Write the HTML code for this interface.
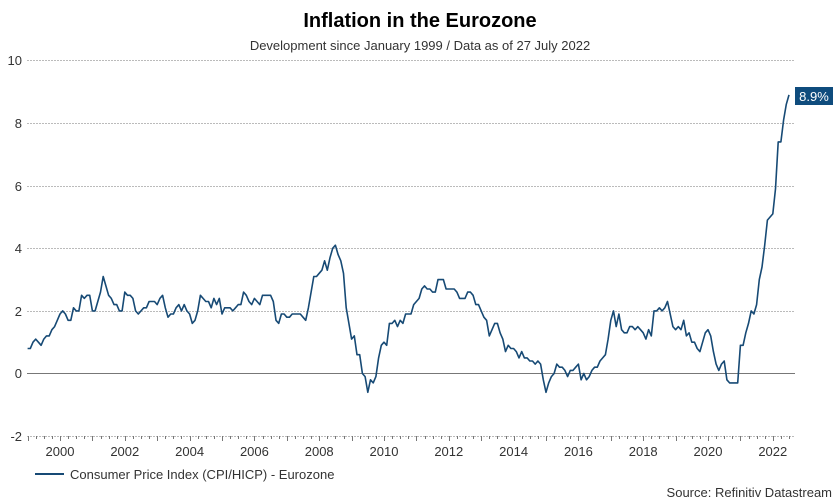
<!DOCTYPE html>
<html><head><meta charset="utf-8"><style>
html,body{margin:0;padding:0;background:#fff;}
svg{display:block;font-family:"Liberation Sans",Arial,sans-serif;}
</style></head><body>
<svg id="s" width="840" height="504" viewBox="0 0 840 504">
<text x="420" y="27" text-anchor="middle" font-size="20" font-weight="bold" fill="#000">Inflation in the Eurozone</text>
<text x="420" y="50" text-anchor="middle" font-size="13" fill="#333">Development since January 1999 / Data as of 27 July 2022</text>
<g stroke="#bbb" stroke-dasharray="2,1" stroke-width="1">
<line x1="27" x2="795" y1="60.5" y2="60.5"/>
<line x1="27" x2="795" y1="123.5" y2="123.5"/>
<line x1="27" x2="795" y1="186.5" y2="186.5"/>
<line x1="27" x2="795" y1="248.5" y2="248.5"/>
<line x1="27" x2="795" y1="311.5" y2="311.5"/>
<line x1="27" x2="795" y1="436.5" y2="436.5"/>
</g>
<line x1="27" x2="795" y1="373.5" y2="373.5" stroke="#777" stroke-width="1"/>
<g font-size="13" fill="#333" text-anchor="end">
<text x="22" y="65">10</text><text x="22" y="128">8</text><text x="22" y="191">6</text>
<text x="22" y="253">4</text><text x="22" y="316">2</text><text x="22" y="378">0</text><text x="22" y="441">-2</text>
</g>
<g id="ticks" stroke="#777" stroke-width="1"></g>
<g font-size="13" fill="#333" text-anchor="middle" id="xl"></g>
<path id="p" fill="none" stroke="#174a75" stroke-width="1.6" stroke-linejoin="round"/>
<rect x="795" y="87" width="38" height="18" fill="#0f4c7d"/>
<text x="814" y="101" text-anchor="middle" font-size="13" fill="#fff">8.9%</text>
<line x1="35" x2="64" y1="474" y2="474" stroke="#174a75" stroke-width="2"/>
<text x="70" y="479" font-size="13" fill="#333">Consumer Price Index (CPI/HICP) - Eurozone</text>
<text x="832" y="497" text-anchor="end" font-size="13" fill="#333">Source: Refinitiv Datastream</text>
</svg>
<script>
var d=[0.8,0.8,1.0,1.1,1.0,0.9,1.1,1.2,1.2,1.4,1.5,1.7,
1.9,2.0,1.9,1.7,1.7,2.1,2.0,2.0,2.5,2.4,2.5,2.5,
2.0,2.0,2.3,2.6,3.1,2.8,2.5,2.4,2.2,2.2,2.0,2.0,
2.6,2.5,2.5,2.4,2.0,1.9,2.0,2.1,2.1,2.3,2.3,2.3,
2.2,2.4,2.5,2.1,1.8,1.9,1.9,2.1,2.2,2.0,2.2,2.0,
1.9,1.6,1.7,2.0,2.5,2.4,2.3,2.3,2.1,2.4,2.2,2.4,
1.9,2.1,2.1,2.1,2.0,2.1,2.2,2.2,2.6,2.5,2.3,2.2,
2.4,2.3,2.2,2.5,2.5,2.5,2.5,2.3,1.7,1.6,1.9,1.9,
1.8,1.8,1.9,1.9,1.9,1.9,1.8,1.7,2.1,2.6,3.1,3.1,
3.2,3.3,3.6,3.3,3.7,4.0,4.1,3.8,3.6,3.2,2.1,1.6,
1.1,1.2,0.6,0.6,0.0,-0.1,-0.6,-0.2,-0.3,-0.1,0.5,0.9,
1.0,0.9,1.6,1.6,1.7,1.5,1.7,1.6,1.9,1.9,1.9,2.2,
2.3,2.4,2.7,2.8,2.7,2.7,2.6,2.6,3.0,3.0,3.0,2.7,
2.7,2.7,2.7,2.6,2.4,2.4,2.4,2.6,2.6,2.5,2.2,2.2,
2.0,1.8,1.7,1.2,1.4,1.6,1.6,1.3,1.1,0.7,0.9,0.8,
0.8,0.7,0.5,0.7,0.5,0.5,0.4,0.4,0.3,0.4,0.3,-0.2,
-0.6,-0.3,-0.1,0.0,0.3,0.2,0.2,0.1,-0.1,0.1,0.1,0.2,
0.3,-0.2,0.0,-0.2,-0.1,0.1,0.2,0.2,0.4,0.5,0.6,1.1,
1.7,2.0,1.5,1.9,1.4,1.3,1.3,1.5,1.5,1.4,1.5,1.4,
1.3,1.1,1.4,1.2,2.0,2.0,2.1,2.0,2.1,2.3,1.9,1.5,
1.4,1.5,1.4,1.7,1.2,1.3,1.0,1.0,0.8,0.7,1.0,1.3,
1.4,1.2,0.7,0.3,0.1,0.3,0.4,-0.2,-0.3,-0.3,-0.3,-0.3,
0.9,0.9,1.3,1.6,2.0,1.9,2.2,3.0,3.4,4.1,4.9,5.0,
5.1,5.9,7.4,7.4,8.1,8.6,8.9];
var x0=27.6,dx=32.4/12,s="";
function Y(v){return 373.5-v*31.3;}
for(var i=0;i<d.length;i++){s+=(i?"L":"M")+(x0+i*dx).toFixed(1)+","+Y(d[i]).toFixed(1);}
document.getElementById("p").setAttribute("d",s);
var t="",l="";
for(var q=0;q<=95;q++){var x=Math.round(x0+q*dx*3)+0.5;if(x>795)break;var L=(q%4==0)?5:3;t+='<line x1="'+x+'" x2="'+x+'" y1="436" y2="'+(436+L)+'"/>';}
for(var y=2000;y<=2022;y+=2){var x=x0+(y-1999)*32.4;l+='<text x="'+x.toFixed(1)+'" y="456">'+y+'</text>';}
document.getElementById("ticks").innerHTML=t;
document.getElementById("xl").innerHTML=l;
</script>
</body></html>
